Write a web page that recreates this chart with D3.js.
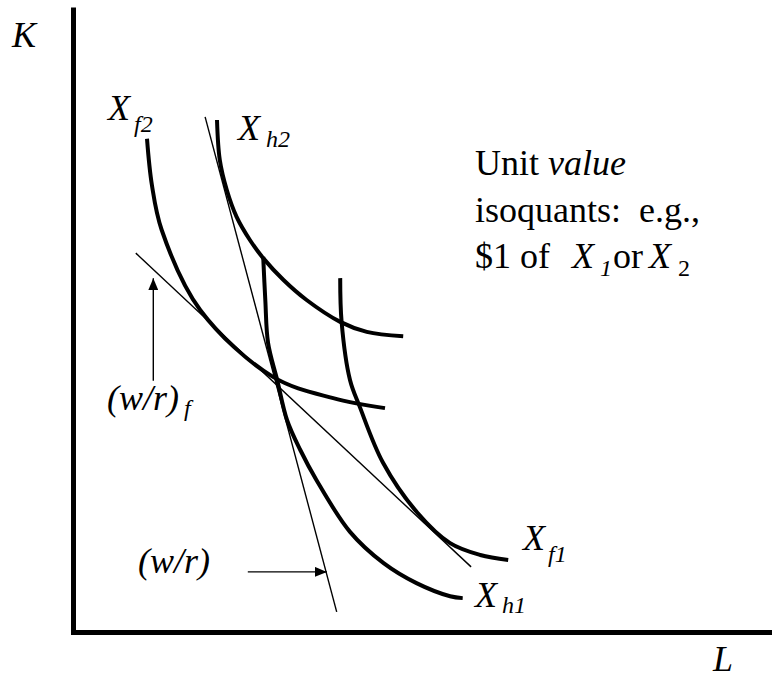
<!DOCTYPE html>
<html lang="en">
<head>
    <meta charset="utf-8" />
    <title>Unit value isoquants</title>
    <style>
        body { margin: 0; background: #fff; }
        .curve { fill: none; stroke: #000; stroke-width: 4; }
        .thin { fill: none; stroke: #000; stroke-width: 1.4; }
        .axis { stroke: #000; stroke-width: 5; }
    </style>
</head>
<body>
    <div id="graph"></div>
    <script src="https://d3js.org/d3.v7.min.js"></script>
    <script>
        // isoquant points: [L, K]
        var xf2 = [[10.5, 79.0], [11.2, 71.6], [12.6, 64.4], [18.1, 51.6], [28.5, 40.9], [37.1, 37.5], [44.5, 35.9]];
        var xh2 = [[20.5, 82.0], [20.9, 75.6], [21.9, 70.8], [23.3, 66.5], [25.2, 62.8], [27.1, 59.9], [30.0, 56.4], [33.3, 53.2], [38.1, 49.7], [41.9, 48.1], [47.1, 47.4]];
        var xh1 = [[27.1, 60.1], [27.4, 53.2], [27.8, 46.3], [29.1, 40.4], [30.5, 34.0], [32.4, 29.2], [34.7, 24.4], [39.5, 16.1], [44.3, 11.1], [49.0, 7.9], [53.8, 5.8], [55.6, 5.5]];
        var xf1 = [[38.1, 56.7], [38.3, 49.7], [39.5, 40.4], [40.9, 36.1], [44.2, 27.2], [49.1, 19.2], [53.8, 14.3], [58.1, 12.4], [62.1, 11.6]];

        // wage-rental lines
        var steepLine = [[18.8, 82.5], [37.6, 3.3]];
        var shallowLine = [[8.9, 60.7], [56.8, 10.5]];

        // pointer arrows (from, to)
        var arrowF = [[11.4, 40.3], [11.4, 56.7]];
        var arrowH = [[24.9, 9.7], [36.2, 9.7]];

        var width = 772, height = 681;
        var serif = "'Liberation Serif', 'Times New Roman', Tinos, 'Nimbus Roman', FreeSerif, 'Noto Serif', 'DejaVu Serif', Times, serif";

        var x = d3.scaleLinear().domain([0, 100]).range([73.5, 773.5]);
        var y = d3.scaleLinear().domain([0, 100]).range([632.5, 7.5]);

        var svg = d3.select("#graph").append("svg")
            .attr("width", width)
            .attr("height", height)
            .attr("font-family", serif);

        svg.append("defs").append("marker")
            .attr("id", "head")
            .attr("viewBox", "0 0 12 10")
            .attr("refX", 12)
            .attr("refY", 5)
            .attr("markerWidth", 12)
            .attr("markerHeight", 10)
            .attr("markerUnits", "userSpaceOnUse")
            .attr("orient", "auto")
            .append("path")
            .attr("d", "M0,0 L12,5 L0,10 Z")
            .attr("fill", "#000");

        // axes
        svg.append("line").attr("class", "axis")
            .attr("x1", x(0)).attr("y1", y(100))
            .attr("x2", x(0)).attr("y2", y(0) + 2.5);
        svg.append("line").attr("class", "axis")
            .attr("x1", x(0) - 2.5).attr("y1", y(0))
            .attr("x2", x(100)).attr("y2", y(0));

        var line = d3.line()
            .x(function (d) { return x(d[0]); })
            .y(function (d) { return y(d[1]); });

        var smooth = d3.line()
            .x(function (d) { return x(d[0]); })
            .y(function (d) { return y(d[1]); })
            .curve(d3.curveCatmullRom.alpha(0.5));

        [xf2, xh2, xh1, xf1].forEach(function (c) {
            svg.append("path").attr("class", "curve").attr("d", smooth(c));
        });

        svg.append("path").attr("class", "thin").attr("d", line(steepLine));
        svg.append("path").attr("class", "thin").attr("d", line(shallowLine));

        [arrowF, arrowH].forEach(function (a) {
            svg.append("path").attr("class", "thin")
                .attr("stroke-width", 1.8)
                .attr("marker-end", "url(#head)")
                .attr("d", line(a));
        });

        // labels
        function label(px, py, main, sub, subDx, subDy) {
            var t = svg.append("text").attr("x", px).attr("y", py)
                .attr("font-family", serif)
                .style("font-size", "36px").style("font-style", "italic");
            t.append("tspan").text(main);
            if (sub) {
                t.append("tspan").attr("dx", subDx).attr("dy", subDy)
                    .style("font-size", "24px").text(sub);
            }
        }

        label(12, 47, "K");
        label(713, 671, "L");
        label(108, 120, "X", "f2", 4, 12);
        label(238, 140, "X", "h2", 6, 7);
        label(523, 550, "X", "f1", 3, 12);
        label(475, 607, "X", "h1", 5, 6);
        label(107, 410, "(w/r)", "f", 5, 6);
        label(138, 573, "(w/r)");

        var note = svg.append("g").attr("font-family", serif).style("font-size", "36px");
        var l1 = note.append("text").attr("x", 475).attr("y", 175);
        l1.append("tspan").text("Unit ");
        l1.append("tspan").style("font-style", "italic").text("value");
        note.append("text").attr("x", 475).attr("y", 222)
            .attr("xml:space", "preserve").text("isoquants:  e.g.,");
        var l3 = note.append("text").attr("x", 475).attr("y", 268);
        l3.append("tspan").text("$1 of");
        l3.append("tspan").attr("x", 572).style("font-style", "italic").text("X");
        l3.append("tspan").attr("x", 600).attr("dy", 8).style("font-size", "24px").style("font-style", "italic").text("1");
        l3.append("tspan").attr("x", 613).attr("dy", -8).text("or");
        l3.append("tspan").attr("x", 649).style("font-style", "italic").text("X");
        l3.append("tspan").attr("x", 678).attr("dy", 8).style("font-size", "24px").text("2");
    </script>
</body>
</html>
